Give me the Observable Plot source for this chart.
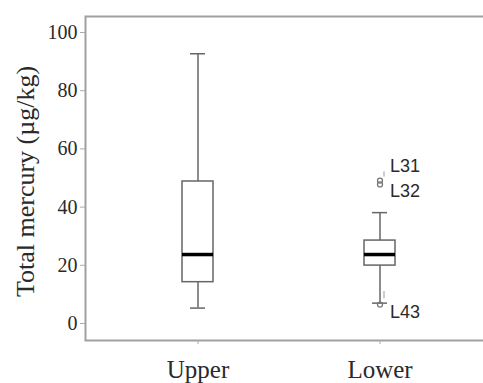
<!DOCTYPE html>
<html>
<head>
<meta charset="utf-8">
<script src="https://cdn.jsdelivr.net/npm/d3@7"></script>
<script src="https://cdn.jsdelivr.net/npm/@observablehq/plot@0.6"></script>
<style>
  html, body { margin: 0; padding: 0; background: #fff; }
</style>
</head>
<body>
<div id="chart"></div>
<script>
const groups = ["Upper", "Lower"];
const whiskerLow = [5.3, 7.0];
const q1 = [14.2, 19.9];
const median = [23.7, 23.7];
const q3 = [48.8, 28.5];
const whiskerHigh = [92.7, 38.1];
const outlierGroup = ["Lower", "Lower", "Lower"];
const outlierValue = [49.1, 47.8, 6.5];
const outlierLabel = ["L31", "L32", "L43"];
const labelValue = [54.0, 45.5, 3.8];
const yTicks = [0, 20, 40, 60, 80, 100];
const yTitle = "Total mercury (µg/kg)";

const boxes = groups.map((g, i) => ({
  group: g, lo: whiskerLow[i], q1: q1[i], med: median[i], q3: q3[i], hi: whiskerHigh[i]
}));
const outliers = outlierValue.map((v, i) => ({
  group: outlierGroup[i], value: v, label: outlierLabel[i], ly: labelValue[i]
}));

const serif = "'Liberation Serif', 'Times New Roman', serif";
const sans = "'Liberation Sans', Arial, sans-serif";
const boxColor = "#666";

const chart = Plot.plot({
  width: 483,
  height: 383,
  marginLeft: 85,
  marginRight: 0,
  marginTop: 16,
  marginBottom: 43,
  style: { fontFamily: serif, background: "transparent", color: "#222", overflow: "hidden" },
  x: { domain: groups, paddingInner: 0.83, paddingOuter: 0.53, range: [85, 491], label: null },
  y: { domain: [-5.84, 105.5], ticks: yTicks, label: null },
  marks: [
    Plot.frame({ stroke: "#a0a0a0", strokeWidth: 2, insetRight: -30 }),
    Plot.axisY({
      ticks: yTicks, tickSize: 5, tickPadding: 3, stroke: "#aaa",
      fontSize: 20, label: null, fill: "#2a2a2a"
    }),
    Plot.text([yTitle], {
      frameAnchor: "left", text: (d) => d, rotate: -90, dx: -60, dy: 3,
      textAnchor: "middle", lineAnchor: "middle",
      fontSize: 26, fill: "#2a2a2a"
    }),
    Plot.axisX({
      tickSize: 4, tickPadding: 16, stroke: "#aaa", fontSize: 25, fill: "#2a2a2a", label: null
    }),
    // whiskers
    Plot.ruleX(boxes, { x: "group", y1: "lo", y2: "q1", stroke: boxColor, strokeWidth: 1.5 }),
    Plot.ruleX(boxes, { x: "group", y1: "q3", y2: "hi", stroke: boxColor, strokeWidth: 1.5 }),
    Plot.tickY(boxes, { x: "group", y: "lo", stroke: boxColor, strokeWidth: 1.5, insetLeft: 8, insetRight: 8 }),
    Plot.tickY(boxes, { x: "group", y: "hi", stroke: boxColor, strokeWidth: 1.5, insetLeft: 8, insetRight: 8 }),
    // box
    Plot.barY(boxes, { x: "group", y1: "q1", y2: "q3", fill: "white", stroke: boxColor, strokeWidth: 1.5 }),
    // median
    Plot.tickY(boxes, { x: "group", y: "med", stroke: "#000", strokeWidth: 3.5 }),
    // outliers
    Plot.dot(outliers, { x: "group", y: "value", r: 2.5, stroke: "#777", strokeWidth: 1.3, fill: "none" }),
    // leader lines
    Plot.ruleX([outliers[0]], { x: "group", y1: (d) => d.value + 1.2, y2: (d) => d.value + 3.0, dx: 4, stroke: "#999", strokeWidth: 1 }),
    Plot.ruleY([outliers[1]], { x: "group", y: (d) => d.value - 0.9, insetLeft: 19, insetRight: 4, stroke: "#888", strokeWidth: 1 }),
    Plot.ruleX([outliers[2]], { x: "group", y1: (d) => d.value + 2.0, y2: (d) => d.value + 4.5, dx: 4, stroke: "#999", strokeWidth: 1 }),
    Plot.ruleY([outliers[2]], { x: "group", y: (d) => d.value + 2.0, insetLeft: 19, insetRight: 2, stroke: "#999", strokeWidth: 1 }),
    // labels
    Plot.text(outliers, {
      x: "group", y: "ly", text: "label", dx: 10, textAnchor: "start",
      fontFamily: sans, fontSize: 18, fill: "#2a2a2a"
    })
  ]
});
document.getElementById("chart").appendChild(chart);
</script>
</body>
</html>
